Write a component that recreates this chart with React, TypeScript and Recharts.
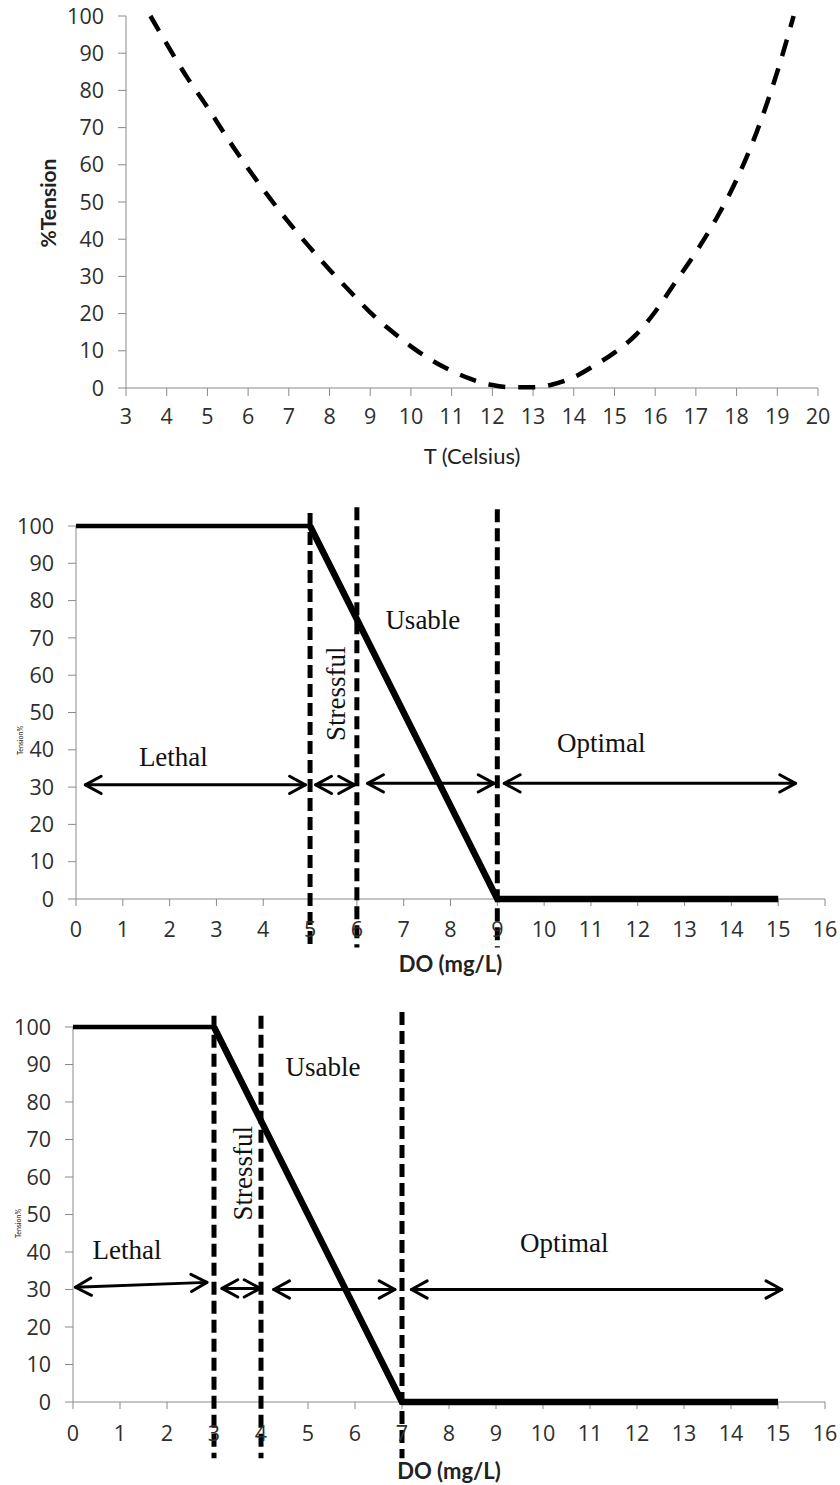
import React from "react";
import { LineChart, Line, XAxis, YAxis, ReferenceLine, ReferenceDot, Label } from "recharts";

// ---- temperature response curve ----
const tempC = [3.6, 4, 4.5, 5, 5.5, 6, 6.5, 7, 7.5, 8, 8.5, 9, 9.5, 10, 10.5, 11, 11.5, 12, 12.5, 13, 13.5, 14, 14.5, 15, 15.5, 16, 16.5, 17, 17.5, 18, 18.5, 19, 19.4];
const tempTension = [100, 92.5, 83.5, 75.5, 67, 59, 51.5, 44.5, 38, 31.8, 26, 20.3, 15.5, 11.2, 7.5, 4.6, 2.3, 0.8, 0.2, 0.2, 1, 2.9, 6, 9.5, 14, 20.5, 28.5, 36.5, 45.5, 56, 69, 85, 100];
const tempTicks = [3, 4, 5, 6, 7, 8, 9, 10, 11, 12, 13, 14, 15, 16, 17, 18, 19, 20];

const tensionTicks = [0, 10, 20, 30, 40, 50, 60, 70, 80, 90, 100];
const doTicks = [0, 1, 2, 3, 4, 5, 6, 7, 8, 9, 10, 11, 12, 13, 14, 15, 16];
const zoneNames = ["Lethal", "Stressful", "Usable", "Optimal"];

// ---- dissolved oxygen, species A ----
const doA_x = [0, 5, 9, 15];
const doA_y = [100, 100, 0, 0];
const doA_bounds = [5, 6, 9];
const doA_boundTop = [103.5, 105, 104.5];
const doA_boundBottom = [-13, -13, -13];
const doA_arrowFrom = [0.2, 5.12, 6.23, 9.15];
const doA_arrowTo = [4.9, 5.95, 8.93, 15.37];
const doA_arrowLevel = [30.6, 30.6, 31, 31];
const doA_zoneX = [2.08, 5.55, 7.41, 11.22];
const doA_zoneY = [38.2, 55, 74.8, 41.7];

// ---- dissolved oxygen, species B ----
const doB_x = [0, 3, 7, 15];
const doB_y = [100, 100, 0, 0];
const doB_bounds = [3, 4, 7];
const doB_boundTop = [103, 103, 104];
const doB_boundBottom = [-15, -15, -15];
const doB_arrowFrom = [0.05, 3.17, 4.27, 7.2];
const doB_arrowTo = [2.85, 3.98, 6.85, 15.08];
const doB_arrowLevel = [30.6, 30.3, 30, 30];
const doB_arrowLevelEnd = [31.9, 30.3, 30, 30];
const doB_zoneX = [1.15, 3.62, 5.32, 10.45];
const doB_zoneY = [40.5, 61, 89.3, 42.5];

const tempData = tempC.map((x, i) => ({ x, y: tempTension[i] }));

const AXIS = "#8a8a8a";
const TICK_FONT = { fontSize: 21.5, fontFamily: "'Open Sans', sans-serif", fill: "#2e2e2e" };

function DoubleArrow(p: any) {
  const { x1, y1, x2, y2 } = p;
  const ang = Math.atan2(y2 - y1, x2 - x1);
  const len = 18;
  const spread = 0.5;
  const head = (tx: number, ty: number, a: number) =>
    `${tx + len * Math.cos(a + spread)},${ty + len * Math.sin(a + spread)} ${tx},${ty} ${tx + len * Math.cos(a - spread)},${ty + len * Math.sin(a - spread)}`;
  return (
    <g stroke="#000" strokeWidth={3} fill="none" strokeLinecap="round" strokeLinejoin="round">
      <line x1={x1} y1={y1} x2={x2} y2={y2} />
      <polyline points={head(x1, y1, ang)} />
      <polyline points={head(x2, y2, ang + Math.PI)} />
    </g>
  );
}

const zoneText = (text: string, rotate: boolean) => (p: any) => (
  <text
    x={p.cx}
    y={p.cy}
    textAnchor="middle"
    dominantBaseline="central"
    transform={rotate ? `rotate(-90 ${p.cx} ${p.cy})` : undefined}
    fontFamily="'Liberation Serif', 'Times New Roman', serif"
    fontSize={27}
    fill="#111"
  >
    {text}
  </text>
);

const xTitle = (text: string, dy: number, size: number, bold: boolean) => (p: any) => {
  const vb = p.viewBox;
  return (
    <text
      x={vb.x + vb.width / 2}
      y={vb.y + dy}
      textAnchor="middle"
      dominantBaseline="central"
      fontFamily="Lato, sans-serif"
      fontSize={size}
      fontWeight={bold ? 700 : 400}
      fill="#222"
    >
      {text}
    </text>
  );
};

const yTitle = (text: string, dx: number, dy: number, size: number, bold: boolean) => (p: any) => {
  const vb = p.viewBox;
  const cx = vb.x + dx;
  const cy = vb.y + vb.height / 2 + dy;
  return (
    <text
      x={cx}
      y={cy}
      textAnchor="middle"
      dominantBaseline="central"
      transform={`rotate(-90 ${cx} ${cy})`}
      fontFamily="Lato, sans-serif"
      fontSize={size}
      fontWeight={bold ? 700 : 400}
      fill="#222"
    >
      {text}
    </text>
  );
};

type DoChartProps = {
  xs: number[];
  ys: number[];
  bounds: number[];
  boundTop: number[];
  boundBottom: number[];
  arrowFrom: number[];
  arrowTo: number[];
  arrowLevel: number[];
  arrowLevelEnd?: number[];
  zoneX: number[];
  zoneY: number[];
  height: number;
  margin: { top: number; right: number; bottom: number; left: number };
  xAxisHeight: number;
  tickMarginX: number;
  titleDy: number;
  yTitleDy: number;
  yTitleDx: number;
};

function DoChart(props: DoChartProps) {
  const { xs, ys } = props;
  const flat = [{ x: xs[0], y: ys[0] }, { x: xs[1], y: ys[1] }];
  const drop = xs.slice(1).map((x, i) => ({ x, y: ys[i + 1] }));
  return (
    <LineChart width={840} height={props.height} margin={props.margin}>
      <XAxis
        type="number"
        dataKey="x"
        domain={[0, 16]}
        ticks={doTicks}
        interval={0}
        stroke={AXIS}
        tickSize={7}
        tickMargin={props.tickMarginX}
        tick={TICK_FONT}
        height={props.xAxisHeight}
      >
        <Label content={xTitle("DO (mg/L)", props.titleDy, 22, true)} />
      </XAxis>
      <YAxis
        type="number"
        dataKey="y"
        domain={[0, 100]}
        ticks={tensionTicks}
        interval={0}
        stroke={AXIS}
        tickSize={8}
        tickMargin={14}
        tick={TICK_FONT}
        width={60}
      >
        <Label content={yTitle("Tension%", props.yTitleDx, props.yTitleDy, 7, false)} />
      </YAxis>
      <Line data={flat} dataKey="y" type="linear" stroke="#000" strokeWidth={4.5} dot={false} zIndex={600} isAnimationActive={false} />
      <Line data={drop} dataKey="y" type="linear" stroke="#000" strokeWidth={6.5} dot={false} strokeLinejoin="round" zIndex={600} isAnimationActive={false} />
      {props.bounds.map((b, i) => (
        <ReferenceLine
          key={`b${i}`}
          segment={[{ x: b, y: props.boundTop[i] }, { x: b, y: props.boundBottom[i] }]}
          ifOverflow="visible"
          stroke="#000"
          strokeWidth={5}
          strokeDasharray="13 6"
          zIndex={650}
        />
      ))}
      {props.arrowFrom.map((f, i) => (
        <ReferenceLine
          key={`a${i}`}
          segment={[
            { x: f, y: props.arrowLevel[i] },
            { x: props.arrowTo[i], y: props.arrowLevelEnd ? props.arrowLevelEnd[i] : props.arrowLevel[i] },
          ]}
          ifOverflow="visible"
          shape={DoubleArrow}
          zIndex={650}
        />
      ))}
      {zoneNames.map((z, i) => (
        <ReferenceDot
          key={z}
          x={props.zoneX[i]}
          y={props.zoneY[i]}
          ifOverflow="visible"
          shape={zoneText(z, z === "Stressful")}
          zIndex={650}
        />
      ))}
    </LineChart>
  );
}

export default function App() {
  return (
    <div style={{ position: "absolute", left: 0, top: 0, width: 840, height: 1485, background: "#fff" }}>
      <LineChart width={840} height={470} margin={{ top: 16, right: 22, bottom: 12, left: 26 }}>
        <XAxis
          type="number"
          dataKey="x"
          domain={[3, 20]}
          ticks={tempTicks}
          interval={0}
          stroke={AXIS}
          tickSize={8}
          tickMargin={13}
          tick={TICK_FONT}
          height={70}
        >
          <Label content={xTitle("T (Celsius)", 67, 22, false)} />
        </XAxis>
        <YAxis
          type="number"
          dataKey="y"
          domain={[0, 100]}
          ticks={tensionTicks}
          interval={0}
          stroke={AXIS}
          tickSize={8}
          tickMargin={14}
          tick={TICK_FONT}
          width={100}
        >
          <Label content={yTitle("%Tension", 21, 1, 21, true)} />
        </YAxis>
        <Line
          data={tempData}
          dataKey="y"
          type="monotone"
          stroke="#000"
          strokeWidth={4.5}
          strokeDasharray="17 13"
          dot={false}
          zIndex={600}
          isAnimationActive={false}
        />
      </LineChart>
      <DoChart
        xs={doA_x}
        ys={doA_y}
        bounds={doA_bounds}
        boundTop={doA_boundTop}
        boundBottom={doA_boundBottom}
        arrowFrom={doA_arrowFrom}
        arrowTo={doA_arrowTo}
        arrowLevel={doA_arrowLevel}
        zoneX={doA_zoneX}
        zoneY={doA_zoneY}
        height={515}
        margin={{ top: 56, right: 15, bottom: 10, left: 16 }}
        xAxisHeight={76}
        tickMarginX={16}
        titleDy={64}
        yTitleDx={4}
        yTitleDy={28}
      />
      <DoChart
        xs={doB_x}
        ys={doB_y}
        bounds={doB_bounds}
        boundTop={doB_boundTop}
        boundBottom={doB_boundBottom}
        arrowFrom={doB_arrowFrom}
        arrowTo={doB_arrowTo}
        arrowLevel={doB_arrowLevel}
        arrowLevelEnd={doB_arrowLevelEnd}
        zoneX={doB_zoneX}
        zoneY={doB_zoneY}
        height={500}
        margin={{ top: 42, right: 15, bottom: 8, left: 13 }}
        xAxisHeight={75}
        tickMarginX={17}
        titleDy={68}
        yTitleDx={5}
        yTitleDy={9}
      />
    </div>
  );
}
